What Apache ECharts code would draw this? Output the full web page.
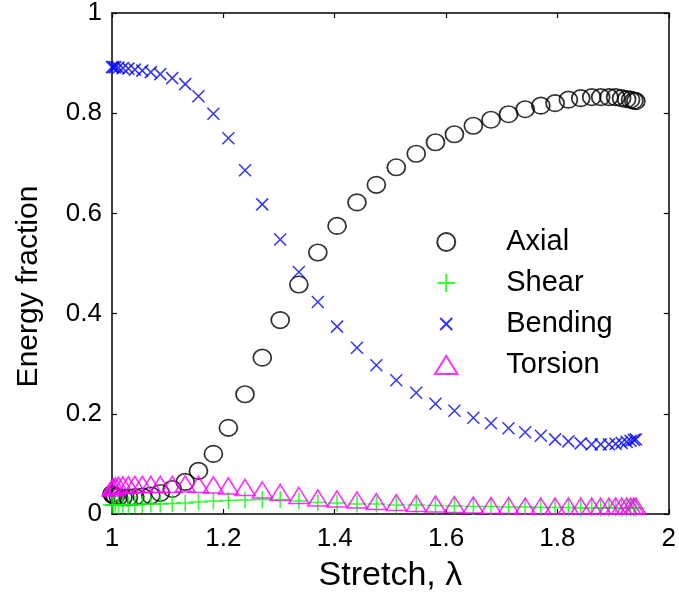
<!DOCTYPE html>
<html>
<head>
<meta charset="utf-8">
<script src="https://cdn.jsdelivr.net/npm/echarts@6/dist/echarts.min.js"></script>
<style>
  html, body { margin: 0; padding: 0; background: #ffffff; }
  #chart { width: 679px; height: 599px; }
</style>
</head>
<body>
<div id="chart"></div>
<script>
// Stretch values at which the energy split was sampled
const stretch = [1.000, 1.0025, 1.006, 1.0115, 1.0195, 1.0294, 1.041, 1.0544, 1.0697, 1.0867,
                 1.1082, 1.1315, 1.1553, 1.1821, 1.209, 1.2389, 1.2699, 1.3021, 1.3356, 1.3697,
                 1.4042, 1.44, 1.4748, 1.5106, 1.5464, 1.581, 1.615, 1.649, 1.6807, 1.7122,
                 1.7421, 1.7702, 1.7958, 1.8197, 1.8419, 1.8616, 1.8777, 1.8926, 1.9046, 1.9153,
                 1.9243, 1.9314, 1.9373, 1.9409];

// Energy fractions for each deformation mode
const axial = [0.040, 0.037, 0.035, 0.034, 0.033, 0.033, 0.034, 0.035, 0.037, 0.042,
               0.050, 0.064, 0.086, 0.120, 0.172, 0.239, 0.312, 0.387, 0.458, 0.522,
               0.575, 0.622, 0.657, 0.692, 0.719, 0.742, 0.758, 0.775, 0.787, 0.798,
               0.808, 0.815, 0.820, 0.827, 0.830, 0.832, 0.832, 0.832, 0.832, 0.830,
               0.828, 0.827, 0.825, 0.824];
const shear = [0.018, 0.018, 0.018, 0.018, 0.018, 0.018, 0.019, 0.019, 0.020, 0.020,
               0.021, 0.022, 0.024, 0.026, 0.027, 0.028, 0.029, 0.029, 0.026, 0.023,
               0.022, 0.020, 0.020, 0.018, 0.018, 0.017, 0.016, 0.015, 0.015, 0.014,
               0.014, 0.013, 0.013, 0.013, 0.012, 0.012, 0.012, 0.012, 0.012, 0.012,
               0.012, 0.012, 0.012, 0.012];
const bending = [0.892, 0.892, 0.892, 0.891, 0.890, 0.889, 0.887, 0.885, 0.882, 0.878,
                 0.870, 0.858, 0.834, 0.799, 0.750, 0.686, 0.618, 0.548, 0.483, 0.423,
                 0.374, 0.332, 0.297, 0.267, 0.242, 0.220, 0.206, 0.192, 0.181, 0.171,
                 0.163, 0.156, 0.149, 0.145, 0.141, 0.139, 0.139, 0.139, 0.140, 0.142,
                 0.144, 0.146, 0.148, 0.149];
const torsion = [0.052, 0.054, 0.056, 0.057, 0.058, 0.058, 0.059, 0.059, 0.059, 0.059,
                 0.059, 0.060, 0.059, 0.058, 0.056, 0.053, 0.048, 0.043, 0.037, 0.032,
                 0.030, 0.028, 0.025, 0.023, 0.021, 0.020, 0.019, 0.018, 0.017, 0.017,
                 0.016, 0.016, 0.016, 0.016, 0.016, 0.016, 0.016, 0.016, 0.016, 0.016,
                 0.016, 0.016, 0.016, 0.016];

const seriesNames = ['Axial', 'Shear', 'Bending', 'Torsion'];
const xTicks = { min: 1, max: 2, step: 0.2 };
const yTicks = { min: 0, max: 1, step: 0.2 };

const FONT = '"Liberation Sans", Arial, Helvetica, sans-serif';
const pairs = ys => stretch.map((x, i) => [x, ys[i]]);

// Marker shapes (open outlines, transparent fill)
const CROSS = 'path://M-2.5,-2.5M0,0L10,10M10,0L0,10M12.5,12.5';
const PLUS = 'path://M0,5L10,5M5,0L5,10';
const TRIANGLE = 'path://M6,0L12,9.6L0,9.6Z';

function markerSeries(name, ys, symbol, size, color, width) {
  return {
    name: name,
    type: 'scatter',
    data: pairs(ys),
    symbol: symbol,
    symbolSize: size,
    clip: false,
    silent: true,
    itemStyle: { color: 'rgba(0,0,0,0)', borderColor: color, borderWidth: width },
    emphasis: { disabled: true }
  };
}

const frameLine = { show: true, onZero: false, lineStyle: { color: '#000', width: 1.5 } };
const innerTick = { show: true, inside: true, length: 5, lineStyle: { color: '#000', width: 1.2 } };

const option = {
  backgroundColor: '#ffffff',
  animation: false,
  grid: { left: 112, right: 9, top: 10, bottom: 85 },
  legend: {
    orient: 'vertical',
    left: 429,
    top: 222,
    itemWidth: 110,
    itemHeight: 18,
    itemGap: 11,
    selectedMode: false,
    data: seriesNames,
    textStyle: { fontFamily: FONT, fontSize: 29, color: '#000', lineHeight: 30 }
  },
  xAxis: [
    {
      type: 'value', position: 'bottom',
      min: xTicks.min, max: xTicks.max, interval: xTicks.step,
      axisLine: frameLine, axisTick: innerTick, splitLine: { show: false },
      axisLabel: { fontFamily: FONT, fontSize: 26, color: '#000', margin: 12 },
      name: 'Stretch, λ', nameLocation: 'middle', nameGap: 45,
      nameTextStyle: { fontFamily: FONT, fontSize: 34, color: '#000' }
    },
    {
      type: 'value', position: 'top',
      min: xTicks.min, max: xTicks.max, interval: xTicks.step,
      axisLine: frameLine, axisTick: innerTick, splitLine: { show: false },
      axisLabel: { show: false }
    }
  ],
  yAxis: [
    {
      type: 'value', position: 'left',
      min: yTicks.min, max: yTicks.max, interval: yTicks.step,
      axisLine: frameLine, axisTick: innerTick, splitLine: { show: false },
      axisLabel: { fontFamily: FONT, fontSize: 26, color: '#000', margin: 10 },
      name: 'Energy fraction', nameLocation: 'middle', nameGap: 68,
      nameTextStyle: { fontFamily: FONT, fontSize: 30, color: '#000', padding: [0, 46, 0, 0] }
    },
    {
      type: 'value', position: 'right',
      min: yTicks.min, max: yTicks.max, interval: yTicks.step,
      axisLine: frameLine, axisTick: innerTick, splitLine: { show: false },
      axisLabel: { show: false }
    }
  ],
  series: [
    markerSeries(seriesNames[0], axial, 'circle', [18, 16.5], '#000000', 1.7),
    markerSeries(seriesNames[1], shear, PLUS, [18, 17], '#00ff00', 1.5),
    markerSeries(seriesNames[2], bending, CROSS, [18, 18], '#0000ff', 1.5),
    markerSeries(seriesNames[3], torsion, TRIANGLE, [20, 16], '#ff00ff', 1.6)
  ]
};

const chart = echarts.init(document.getElementById('chart'), null, { renderer: 'canvas' });
chart.setOption(option);
</script>
</body>
</html>
